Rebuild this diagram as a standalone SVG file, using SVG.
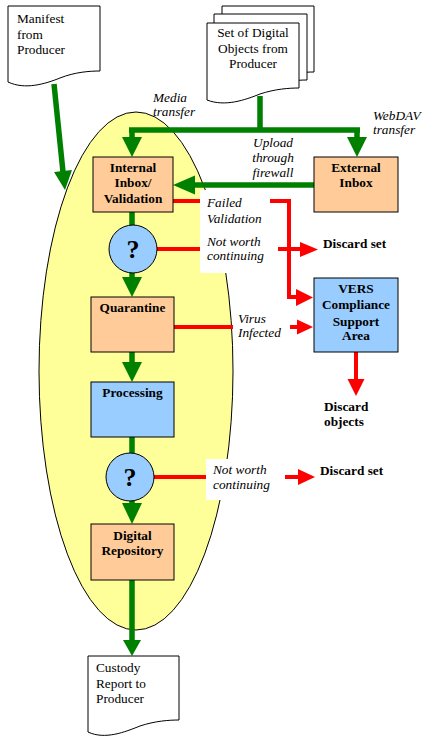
<svg xmlns="http://www.w3.org/2000/svg" width="428" height="749" viewBox="0 0 428 749">
<style>
.doc{fill:#fff;stroke:#000;stroke-width:1}
.box{stroke:#000;stroke-width:1}
.peach{fill:#FFCC99}
.blue{fill:#99CCFF}
.t{font-family:'Liberation Serif','DejaVu Serif',serif;font-size:13.3px;fill:#000}
.b{font-weight:bold}
.i{font-style:italic}
.c{text-anchor:middle}
.q{font-family:'Liberation Serif','DejaVu Serif',serif;font-size:26px;font-weight:bold;text-anchor:middle}
.g{stroke:#008000;stroke-width:5.5;fill:none}
.gh{fill:#008000}
.r{stroke:#FF0000;stroke-width:4;fill:none}
.rh{fill:#FF0000}
</style>
<rect width="428" height="749" fill="#fff"/>
<g id="ellipse"><ellipse cx="136" cy="371" rx="97" ry="259" fill="#FFFF99" stroke="#000" stroke-width="1"/></g>

<g id="manifest">
<path class="doc" d="M8,6 H100 V71 C90,71 75,72 60,78 C45,84 25,90 8,82 Z"/>
<text class="t" x="17" y="23">Manifest</text>
<text class="t" x="17" y="39">from</text>
<text class="t" x="17" y="54">Producer</text>
</g>

<g id="digital-objects">
<path class="doc" d="M222,6 H314 V72 C304,72 290,73 275,78 C260,84 240,90 222,82 Z"/>
<path class="doc" d="M214,14 H307 V80 C297,80 283,81 268,86 C253,92 233,98 214,90 Z"/>
<path class="doc" d="M207,23 H299 V88 C289,88 275,89 260,94 C245,100 225,107 207,100 Z"/>
<text class="t c" x="253" y="37">Set of Digital</text>
<text class="t c" x="253" y="53">Objects from</text>
<text class="t c" x="253" y="68">Producer</text>
</g>

<g id="connectors">
<path class="g" d="M54,84 L63,172"/>
<polygon class="gh" points="65,190 72,170 54,172"/>
<path class="g" d="M260,96 V130 M129,130 H360 M132,130 V138 M357,130 V138"/>
<polygon class="gh" points="122,137 142,137 132,157"/>
<polygon class="gh" points="347,137 367,137 357,157"/>
<path class="g" d="M314,185 H194"/>
<polygon class="gh" points="173,185 195,175.5 195,194.5"/>
<path class="g" d="M132,212 V226 M132,272 V278 M132,352 V363 M132,437 V454 M132,500 V504 M132,580 V641"/>
<polygon class="gh" points="122,277 142,277 132,297"/>
<polygon class="gh" points="122,362 142,362 132,382"/>
<polygon class="gh" points="122,503 142,503 132,524"/>
<polygon class="gh" points="123,640 141,640 132,656"/>
<path class="r" d="M173,201 H289 V297 H298"/>
<polygon class="rh" points="313,297.5 296,289 296,306"/>
<path class="r" d="M157,249 H301"/>
<polygon class="rh" points="318,249.5 300,242 300,257"/>
<path class="r" d="M174,327 H298"/>
<polygon class="rh" points="313,327 297,319.5 297,334.5"/>
<path class="r" d="M356,352 V380"/>
<polygon class="rh" points="347.5,379 364.5,379 356,396"/>
<path class="r" d="M154,477 H299"/>
<polygon class="rh" points="315,477 298,469 298,485"/>
</g>

<g id="labels">
<text class="t i" x="153" y="102">Media</text>
<text class="t i" x="153" y="116">transfer</text>
<text class="t i" x="373" y="120">WebDAV</text>
<text class="t i" x="373" y="134">transfer</text>
<text class="t i c" x="273" y="147">Upload</text>
<text class="t i c" x="273" y="162">through</text>
<text class="t i c" x="273" y="177">firewall</text>
<rect x="200" y="190" width="70" height="40" fill="#fff"/>
<text class="t i" x="207" y="207">Failed</text>
<text class="t i" x="207" y="223">Validation</text>
<rect x="200" y="230" width="78" height="43" fill="#fff"/>
<text class="t i" x="207" y="245.5">Not worth</text>
<text class="t i" x="207" y="260">continuing</text>
<rect x="233" y="312" width="57" height="30" fill="#fff"/>
<text class="t i" x="238" y="323">Virus</text>
<text class="t i" x="238" y="337">Infected</text>
<rect x="206" y="459" width="79" height="41" fill="#fff"/>
<text class="t i" x="213" y="474">Not worth</text>
<text class="t i" x="213" y="489">continuing</text>
<text class="t b" x="323" y="248">Discard set</text>
<text class="t b" x="324" y="411">Discard</text>
<text class="t b" x="324" y="426">objects</text>
<text class="t b" x="320" y="475">Discard set</text>
</g>

<g id="internal-inbox">
<rect class="box peach" x="93" y="157" width="80" height="55"/>
<text class="t b c" x="133" y="172">Internal</text>
<text class="t b c" x="133" y="187">Inbox/</text>
<text class="t b c" x="133" y="203">Validation</text>
</g>

<g id="external-inbox">
<rect class="box peach" x="314" y="157" width="84" height="55"/>
<text class="t b c" x="356" y="172">External</text>
<text class="t b c" x="356" y="187">Inbox</text>
</g>

<g id="decision-1">
<circle class="box blue" cx="133" cy="249" r="24"/>
<text class="q" x="133" y="258">?</text>
</g>

<g id="quarantine">
<rect class="box peach" x="91" y="297" width="83" height="55"/>
<text class="t b c" x="132.5" y="312">Quarantine</text>
</g>

<g id="vers">
<rect class="box blue" x="314" y="278" width="84" height="74"/>
<text class="t b c" x="356" y="293">VERS</text>
<text class="t b c" x="356" y="309">Compliance</text>
<text class="t b c" x="356" y="326">Support</text>
<text class="t b c" x="356" y="340">Area</text>
</g>

<g id="processing">
<rect class="box blue" x="91" y="382" width="83" height="55"/>
<text class="t b c" x="132.5" y="397">Processing</text>
</g>

<g id="decision-2">
<circle class="box blue" cx="130" cy="477" r="24"/>
<text class="q" x="130" y="486">?</text>
</g>

<g id="digital-repository">
<rect class="box peach" x="91" y="524" width="83" height="56"/>
<text class="t b c" x="132.5" y="540">Digital</text>
<text class="t b c" x="132.5" y="555">Repository</text>
</g>

<g id="custody-report">
<path class="doc" d="M88,656 H179 V720 C169,720 155,721 140,726 C125,732 105,740 88,732 Z"/>
<text class="t" x="96" y="672">Custody</text>
<text class="t" x="96" y="688">Report to</text>
<text class="t" x="96" y="703">Producer</text>
</g>
</svg>
